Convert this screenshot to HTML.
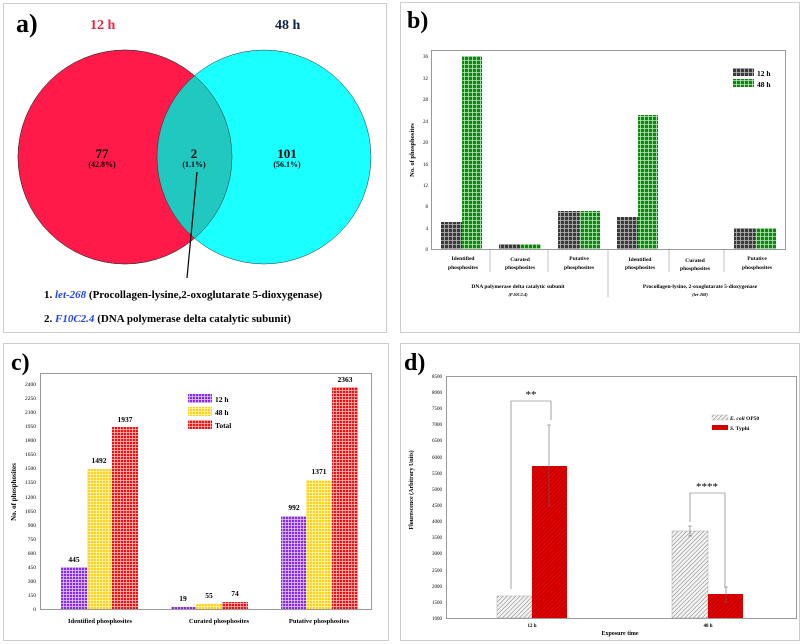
<!DOCTYPE html>
<html><head><meta charset="utf-8"><style>body{margin:0;background:#fff}svg{display:block;font-family:"Liberation Serif",serif;font-weight:bold}</style></head><body>
<svg width="802" height="644" viewBox="0 0 802 644" xmlns="http://www.w3.org/2000/svg">
<defs>
<pattern id="gk" width="4" height="4" patternUnits="userSpaceOnUse"><rect width="4" height="4" fill="#3a3a3a"/><path d="M0 0.5H4M0.5 0V4" stroke="#bbb" stroke-width="0.8"/></pattern>
<pattern id="gg" width="4" height="4" patternUnits="userSpaceOnUse"><rect width="4" height="4" fill="#0a8a0a"/><path d="M0 0.5H4M0.5 0V4" stroke="#bfe8bf" stroke-width="0.8"/></pattern>
<pattern id="gp" width="3" height="3" patternUnits="userSpaceOnUse"><rect width="3" height="3" fill="#8a2be2"/><path d="M0 0.5H3M0.5 0V3" stroke="#e6d0ff" stroke-width="0.7"/></pattern>
<pattern id="gy" width="3" height="3" patternUnits="userSpaceOnUse"><rect width="3" height="3" fill="#ffd21a"/><path d="M0 0.5H3M0.5 0V3" stroke="#fff6c0" stroke-width="0.7"/></pattern>
<pattern id="gr" width="3" height="3" patternUnits="userSpaceOnUse"><rect width="3" height="3" fill="#ee1111"/><path d="M0 0.5H3M0.5 0V3" stroke="#ffc8c8" stroke-width="0.7"/></pattern>
<pattern id="hg" width="3" height="3" patternUnits="userSpaceOnUse" patternTransform="rotate(45)"><rect width="3" height="3" fill="#f4f4f4"/><path d="M0 0V3" stroke="#777" stroke-width="1"/></pattern>
<pattern id="hr" width="3" height="3" patternUnits="userSpaceOnUse" patternTransform="rotate(45)"><rect width="3" height="3" fill="#e00000"/><path d="M0 0V3" stroke="#900" stroke-width="1"/></pattern>
</defs>
<!-- panel boxes -->
<rect x="3.5" y="3.5" width="383" height="329" fill="none" stroke="#ccc"/>
<rect x="400.5" y="2.5" width="399" height="330" fill="none" stroke="#ccc"/>
<rect x="3.5" y="343.5" width="385" height="297" fill="none" stroke="#ccc"/>
<rect x="400.5" y="343.5" width="399" height="297" fill="none" stroke="#ccc"/>

<!-- A -->
<text x="16" y="32" font-size="26">a)</text>
<text x="90" y="29" font-size="14" fill="#ee2244">12 h</text>
<text x="275" y="29" font-size="14" fill="#124">48 h</text>
<circle cx="125" cy="157" r="107" fill="#ff1a4a" stroke="#333" stroke-width="0.5"/>
<circle cx="264" cy="157" r="107" fill="#1affff" stroke="#333" stroke-width="0.5"/>
<clipPath id="cl"><circle cx="125" cy="157" r="107"/></clipPath>
<circle cx="264" cy="157" r="107" fill="#20c8c0" stroke="#333" stroke-width="0.5" clip-path="url(#cl)"/>
<circle cx="125" cy="157" r="107" fill="none" stroke="#333" stroke-width="0.5"/>
<g text-anchor="middle" font-size="13"><text x="102" y="158">77</text><text x="194" y="158">2</text><text x="287" y="158">101</text></g>
<g text-anchor="middle" font-size="8"><text x="102" y="167">(42.8%)</text><text x="194" y="167">(1.1%)</text><text x="287" y="167">(56.1%)</text></g>
<line x1="197" y1="172" x2="187" y2="278" stroke="#000" stroke-width="1.2"/>
<text x="44" y="298" font-size="11">1. <tspan fill="#2244ee" font-style="italic">let-268</tspan> (Procollagen-lysine,2-oxoglutarate 5-dioxygenase)</text>
<text x="44" y="322" font-size="11">2. <tspan fill="#2244ee" font-style="italic">F10C2.4</tspan> (DNA polymerase delta catalytic subunit)</text>

<!-- B -->
<text x="407" y="28" font-size="24">b)</text>
<rect x="431.5" y="50.5" width="354" height="199" fill="none" stroke="#999"/>
<g font-size="5" font-weight="normal" text-anchor="end">
<text x="428" y="251">0</text><text x="428" y="230">4</text><text x="428" y="208">8</text><text x="428" y="187">12</text><text x="428" y="166">16</text><text x="428" y="144">20</text><text x="428" y="123">24</text><text x="428" y="101">28</text><text x="428" y="80">32</text><text x="428" y="58">36</text></g>
<text transform="translate(414,150) rotate(-90)" font-size="6.5" text-anchor="middle">No. of phosphosites</text>
<rect x="441" y="222" width="21" height="27" fill="url(#gk)"/><rect x="462" y="56" width="20" height="193" fill="url(#gg)"/>
<rect x="499" y="244" width="21" height="5" fill="url(#gk)"/><rect x="520" y="244" width="21" height="5" fill="url(#gg)"/>
<rect x="558" y="211" width="21" height="38" fill="url(#gk)"/><rect x="579" y="211" width="21" height="38" fill="url(#gg)"/>
<rect x="617" y="217" width="21" height="32" fill="url(#gk)"/><rect x="638" y="115" width="20" height="134" fill="url(#gg)"/>
<rect x="734" y="228" width="21" height="21" fill="url(#gk)"/><rect x="755" y="228" width="21" height="21" fill="url(#gg)"/>
<rect x="733" y="68" width="21" height="8" fill="url(#gk)"/><rect x="733" y="79" width="21" height="8" fill="url(#gg)"/>
<text x="757" y="76" font-size="7.5">12 h</text><text x="757" y="87" font-size="7.5">48 h</text>
<g stroke="#999" stroke-width="0.6"><line x1="490" y1="249" x2="490" y2="272"/><line x1="548" y1="249" x2="548" y2="272"/><line x1="608" y1="249" x2="608" y2="297"/><line x1="669" y1="249" x2="669" y2="272"/><line x1="724" y1="249" x2="724" y2="272"/></g>
<g font-size="5.5" text-anchor="middle">
<text x="463" y="260">Identified</text><text x="463" y="269">phosphosites</text>
<text x="520" y="261">Curated</text><text x="520" y="269">phosphosites</text>
<text x="579" y="260">Putative</text><text x="579" y="269">phosphosites</text>
<text x="640" y="261">Identified</text><text x="640" y="269">phosphosites</text>
<text x="695" y="262">Curated</text><text x="695" y="270">phosphosites</text>
<text x="757" y="260">Putative</text><text x="757" y="269">phosphosites</text>
<text x="518" y="288">DNA polymerase delta catalytic subunit</text><text x="518" y="296" font-style="italic" font-size="4.5">(F10C2.4)</text>
<text x="700" y="288">Procollagen-lysine, 2-oxoglutarate 5-dioxygenase</text><text x="700" y="296" font-style="italic" font-size="4.5">(let-268)</text></g>

<!-- C -->
<text x="11" y="370" font-size="24">c)</text>
<rect x="40.5" y="373.5" width="331" height="236" fill="none" stroke="#999"/>
<g font-size="5.5" font-weight="normal" text-anchor="end">
<text x="36" y="611">0</text><text x="36" y="597">150</text><text x="36" y="583">300</text><text x="36" y="569">450</text><text x="36" y="555">600</text><text x="36" y="541">750</text><text x="36" y="527">900</text><text x="36" y="513">1050</text><text x="36" y="499">1200</text><text x="36" y="484">1350</text><text x="36" y="470">1500</text><text x="36" y="456">1650</text><text x="36" y="442">1800</text><text x="36" y="428">1950</text><text x="36" y="414">2100</text><text x="36" y="400">2250</text><text x="36" y="386">2400</text></g>
<text transform="translate(16,492) rotate(-90)" font-size="7" text-anchor="middle">No. of phosphosites</text>
<rect x="61" y="567" width="26" height="42" fill="url(#gp)"/><rect x="87" y="469" width="25" height="140" fill="url(#gy)"/><rect x="112" y="427" width="26" height="182" fill="url(#gr)"/>
<rect x="171" y="607" width="25" height="2" fill="url(#gp)"/><rect x="196" y="604" width="26" height="5" fill="url(#gy)"/><rect x="222" y="602" width="26" height="7" fill="url(#gr)"/>
<rect x="281" y="516" width="25" height="93" fill="url(#gp)"/><rect x="306" y="480" width="26" height="129" fill="url(#gy)"/><rect x="332" y="387" width="26" height="222" fill="url(#gr)"/>
<g font-size="7.5" text-anchor="middle"><text x="74" y="562">445</text><text x="99" y="463">1492</text><text x="125" y="422">1937</text><text x="183" y="601">19</text><text x="209" y="598">55</text><text x="235" y="596">74</text><text x="294" y="510">992</text><text x="319" y="474">1371</text><text x="345" y="382">2363</text></g>
<rect x="188" y="394" width="24" height="9" fill="url(#gp)"/><rect x="188" y="407" width="24" height="9" fill="url(#gy)"/><rect x="188" y="420" width="24" height="9" fill="url(#gr)"/>
<g font-size="7.5"><text x="215" y="402">12 h</text><text x="215" y="415">48 h</text><text x="215" y="428">Total</text></g>
<g font-size="6.5" text-anchor="middle"><text x="100" y="623">Identified phosphosites</text><text x="219" y="623">Curated phosphosites</text><text x="319" y="623">Putative phosphosites</text></g>

<!-- D -->
<text x="404" y="370" font-size="24">d)</text>
<rect x="446.5" y="376.5" width="350" height="242" fill="none" stroke="#999"/>
<g font-size="5" font-weight="normal" text-anchor="end">
<text x="442" y="620">1000</text><text x="442" y="604">1500</text><text x="442" y="588">2000</text><text x="442" y="572">2500</text><text x="442" y="555">3000</text><text x="442" y="539">3500</text><text x="442" y="523">4000</text><text x="442" y="507">4500</text><text x="442" y="491">5000</text><text x="442" y="475">5500</text><text x="442" y="459">6000</text><text x="442" y="442">6500</text><text x="442" y="426">7000</text><text x="442" y="410">7500</text><text x="442" y="394">8000</text><text x="442" y="378">8500</text></g>
<text transform="translate(413,490) rotate(-90)" font-size="6" text-anchor="middle">Flourescence (Arbitrary Units)</text>
<rect x="497" y="596" width="35" height="22" fill="url(#hg)" stroke="#999" stroke-width="0.4"/>
<rect x="532" y="466" width="35" height="152" fill="url(#hr)"/>
<rect x="672" y="531" width="36" height="87" fill="url(#hg)" stroke="#999" stroke-width="0.4"/>
<rect x="708" y="594" width="35" height="24" fill="url(#hr)"/>
<g stroke="#666" stroke-width="0.6" fill="none">
<path d="M549 425V506M547 425H551M547 506H551"/>
<path d="M690 526V536M688 526H692M688 536H692"/>
<path d="M726 587V602M724 587H728M724 602H728"/>
<path d="M511 589V401H551V420"/>
<path d="M690 522V493H725V587"/></g>
<g font-size="11" font-weight="normal" text-anchor="middle"><text x="531" y="398">**</text><text x="707" y="490">****</text></g>
<rect x="712" y="415" width="16" height="5" fill="url(#hg)" stroke="#999" stroke-width="0.3"/><rect x="712" y="425" width="16" height="5" fill="url(#hr)"/>
<g font-size="5.5"><text x="730" y="420"><tspan font-style="italic">E. coli</tspan> OP50</text><text x="730" y="430"><tspan font-style="italic">S.</tspan> Typhi</text></g>
<g font-size="5" text-anchor="middle"><text x="532" y="627">12 h</text><text x="708" y="627">48 h</text></g>
<text x="620" y="635" font-size="6" text-anchor="middle">Exposure time</text>
</svg>
</body></html>
